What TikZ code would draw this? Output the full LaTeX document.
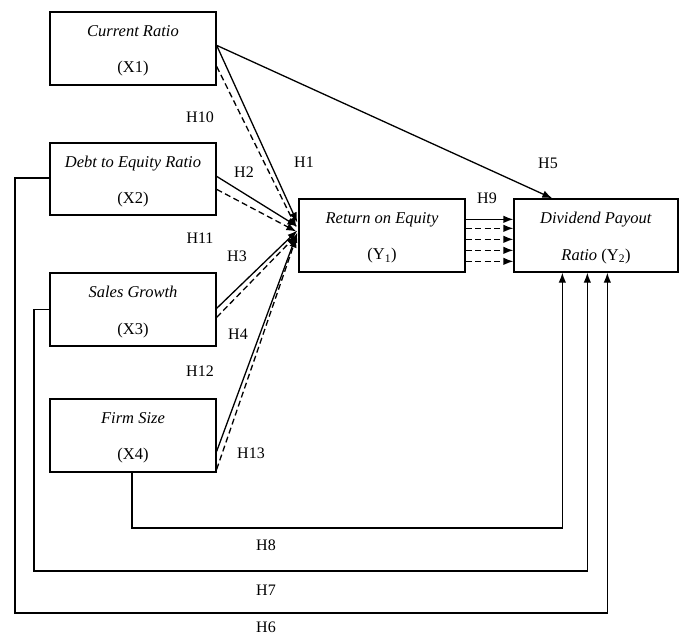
\documentclass[tikz,border=0pt]{standalone}
\usepackage{fontspec}
\setmainfont{Liberation Serif}
\usetikzlibrary{calc,arrows.meta}
\begin{document}
\begin{tikzpicture}[x=1pt,y=-1pt,
  box/.style={draw,line width=1.3pt,rectangle,inner sep=0pt},
  txt/.style={inner sep=0pt,align=center,font=\fontsize{16.5}{36.5}\selectfont},
  hlab/.style={font=\fontsize{16}{18}\selectfont,inner sep=0pt},
  arr/.style={line width=1.3pt,-{Latex[length=10pt,width=7.5pt]}},
  darr/.style={line width=1.3pt,dash pattern=on 6pt off 3.5pt,-{Latex[length=10pt,width=7.5pt]}}]
\useasboundingbox (0,0) rectangle (684,637);
% boxes
\node[box,minimum width=166pt,minimum height=73pt] (x1) at (133,48.5) {};
\node[box,minimum width=166pt,minimum height=72pt] (x2) at (133,179) {};
\node[box,minimum width=166pt,minimum height=73pt] (x3) at (133,309.5) {};
\node[box,minimum width=166pt,minimum height=73pt] (x4) at (133,435.5) {};
\node[box,minimum width=166pt,minimum height=73pt] (roe) at (382,235.5) {};
\node[box,minimum width=164pt,minimum height=73pt] (dpr) at (596,235.5) {};
\node[txt] (x1t) at ($(x1)+(0,2.5)$) {\textit{Current Ratio}\\(X1)};
\node[txt] (x2t) at ($(x2)+(0,2.5)$) {\textit{Debt to Equity Ratio}\\(X2)};
\node[txt] (x3t) at ($(x3)+(0,2.5)$) {\textit{Sales Growth}\\(X3)};
\node[txt] (x4t) at ($(x4)+(0,2.5)$) {\textit{Firm Size}\\(X4)};
\node[txt] (roet) at ($(roe)+(0,2.5)$) {\textit{Return on Equity}\\(Y\textsubscript{1})};
\node[txt] (dprt) at ($(dpr)+(0,2.5)$) {\textit{Dividend Payout}\\\textit{Ratio} (Y\textsubscript{2})};
% direct arrows to ROE
\draw[arr] ($(x1.north east)+(0,34)$) -- ($(roe.west)+(-1,-13)$);
\draw[darr] ($(x1.north east)+(0,55)$) -- ($(roe.west)+(-2,-8)$);
\draw[arr] ($(x2.north east)+(0,34)$) -- ($(roe.west)+(-1,-9)$);
\draw[darr] ($(x2.north east)+(0,47)$) -- ($(roe.west)+(-2,-4)$);
\draw[arr] ($(x3.north east)+(0,36)$) -- ($(roe.west)+(-1,-5)$);
\draw[darr] ($(x3.north east)+(0,45)$) -- ($(roe.west)+(-2,0)$);
\draw[arr] ($(x4.north east)+(0,53)$) -- ($(roe.west)+(-1,-3)$);
\draw[darr] ($(x4.north east)+(0,71)$) -- ($(roe.west)+(-2,2)$);
% H5
\draw[arr] ($(x1.north east)+(0,34)$) -- ($(dpr.north west)+(39,0)$);
% H9
\draw[arr] ($(roe.north east)+(0,21)$) -- ($(dpr.north west)+(0,21)$);
\draw[darr] ($(roe.north east)+(0,30)$) -- ($(dpr.north west)+(0,30)$);
\draw[darr] ($(roe.north east)+(0,41)$) -- ($(dpr.north west)+(0,41)$);
\draw[darr] ($(roe.north east)+(0,52)$) -- ($(dpr.north west)+(0,52)$);
\draw[darr] ($(roe.north east)+(0,63)$) -- ($(dpr.north west)+(0,63)$);
% H6, H7, H8
\coordinate (c6) at (15,613);
\coordinate (c7) at (34,571);
\coordinate (c8) at (132,528);
\draw[arr] ($(x2.west)+(0,-1)$) -| (c6) -| ($(dpr.south west)+(94,0)$);
\draw[arr] (x3.west) -| (c7) -| ($(dpr.south west)+(74,0)$);
\draw[arr] ($(x4.south)+(-1,0)$) -- (c8) -| ($(dpr.south west)+(49,0)$);
% labels
\node[hlab] (h10) at (200,117) {H10};
\node[hlab] (h1) at (304,162) {H1};
\node[hlab] (h2) at (244,172) {H2};
\node[hlab] (h5) at (548,163) {H5};
\node[hlab] (h11) at (200,238) {H11};
\node[hlab] (h3) at (237,256) {H3};
\node[hlab] (h9) at (487,198) {H9};
\node[hlab] (h4) at (238,334) {H4};
\node[hlab] (h12) at (200,371) {H12};
\node[hlab] (h13) at (251,453) {H13};
\node[hlab] (h8) at (266,545) {H8};
\node[hlab] (h7) at (266,590) {H7};
\node[hlab] (h6) at (266,627) {H6};
\end{tikzpicture}
\end{document}
